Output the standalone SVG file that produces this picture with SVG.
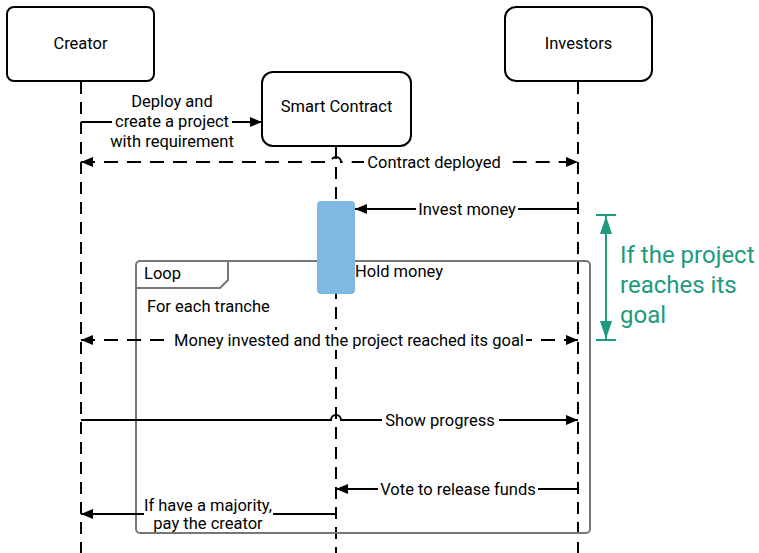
<svg xmlns="http://www.w3.org/2000/svg" width="759" height="553" viewBox="0 0 759 553">
<style>
.box{fill:#fff;stroke:#000;stroke-width:2}
.life{stroke:#000;stroke-width:2;stroke-dasharray:12 8;fill:none}
.msg{stroke:#000;stroke-width:2;fill:none}
.dash{stroke:#000;stroke-width:2;stroke-dasharray:14 9;fill:none}
text{font-family:Roboto,"Liberation Sans",Arial,sans-serif;font-size:16.5px;fill:#000}
.c{text-anchor:middle}
.bg{fill:#fff}
.green{fill:#1e9a7c;font-size:24px}
</style>
<defs>
<marker id="ah" viewBox="0 0 12 10" refX="12" refY="5" markerWidth="12" markerHeight="10" markerUnits="userSpaceOnUse" orient="auto-start-reverse"><path d="M0,0 L12,5 L0,10 Z" fill="#000"/></marker>
</defs>
<rect width="759" height="553" fill="#fff"/>
<g id="lifelines">
<path class="life" d="M81,82 V553"/>
<path class="life" d="M336,147 V553"/>
<path class="life" d="M578,82 V553"/>
</g>
<g id="loop">
<rect x="136" y="261" width="454" height="272" rx="4" fill="none" stroke="#777" stroke-width="2"/>
<path d="M136,288 H220 L228,280 V261" fill="none" stroke="#777" stroke-width="2"/>
<text x="144" y="279">Loop</text>
<text x="147" y="312">For each tranche</text>
</g>
<g id="activation">
<rect x="317" y="201" width="38" height="93" rx="4" fill="#80b8e4"/>
</g>
<g id="creator">
<rect class="box" x="7" y="7" width="147" height="74" rx="7"/>
<text class="c" x="80.5" y="49">Creator</text>
</g>
<g id="smart-contract">
<rect class="box" x="262" y="72" width="149" height="74" rx="11"/>
<text class="c" x="336.5" y="112">Smart Contract</text>
</g>
<g id="investors">
<rect class="box" x="505" y="7" width="147" height="74" rx="11"/>
<text class="c" x="578.5" y="49">Investors</text>
</g>
<g id="connectors">
<path class="msg" d="M81,122 H262" marker-end="url(#ah)"/>
<rect class="bg" x="112" y="91" width="120" height="58"/>
<text class="c" x="172" y="107">Deploy and</text>
<text class="c" x="172" y="127">create a project</text>
<text class="c" x="172" y="147">with requirement</text>

<path class="dash" d="M81,162 H331 A5,5 0 0 1 341,162 H578" marker-start="url(#ah)" marker-end="url(#ah)"/>
<rect class="bg" x="364" y="152" width="140" height="20"/>
<text class="c" x="434" y="168">Contract deployed</text>

<path class="msg" d="M578,209 H355" marker-end="url(#ah)"/>
<rect class="bg" x="416" y="199" width="102" height="20"/>
<text class="c" x="467" y="215">Invest money</text>

<text x="355" y="277">Hold money</text>

<path class="dash" d="M81,340 H578" marker-start="url(#ah)" marker-end="url(#ah)"/>
<rect class="bg" x="172" y="330" width="354" height="20"/>
<text class="c" x="349" y="346">Money invested and the project reached its goal</text>

<path class="msg" d="M81,420 H331 A5,5 0 0 1 341,420 H578" marker-end="url(#ah)"/>
<rect class="bg" x="382" y="410" width="117" height="20"/>
<text class="c" x="440" y="426">Show progress</text>

<path class="msg" d="M578,489 H336" marker-end="url(#ah)"/>
<rect class="bg" x="378" y="479" width="160" height="20"/>
<text class="c" x="458" y="495">Vote to release funds</text>

<path class="msg" d="M336,514 H81" marker-end="url(#ah)"/>
<rect class="bg" x="144" y="496" width="129" height="36"/>
<text class="c" x="208" y="511">If have a majority,</text>
<text class="c" x="208" y="529">pay the creator</text>
</g>
<g id="goal-annotation">
<path d="M606,215 V340" stroke="#1e9a7c" stroke-width="2" fill="none"/>
<path d="M596,215 H616 M596,340 H616" stroke="#1e9a7c" stroke-width="2"/>
<path d="M606,216 L600,234 L612,234 Z M606,339 L600,321 L612,321 Z" fill="#1e9a7c"/>
<text class="green" x="620" y="263">If the project</text>
<text class="green" x="620" y="293">reaches its</text>
<text class="green" x="620" y="323">goal</text>
</g>
</svg>
